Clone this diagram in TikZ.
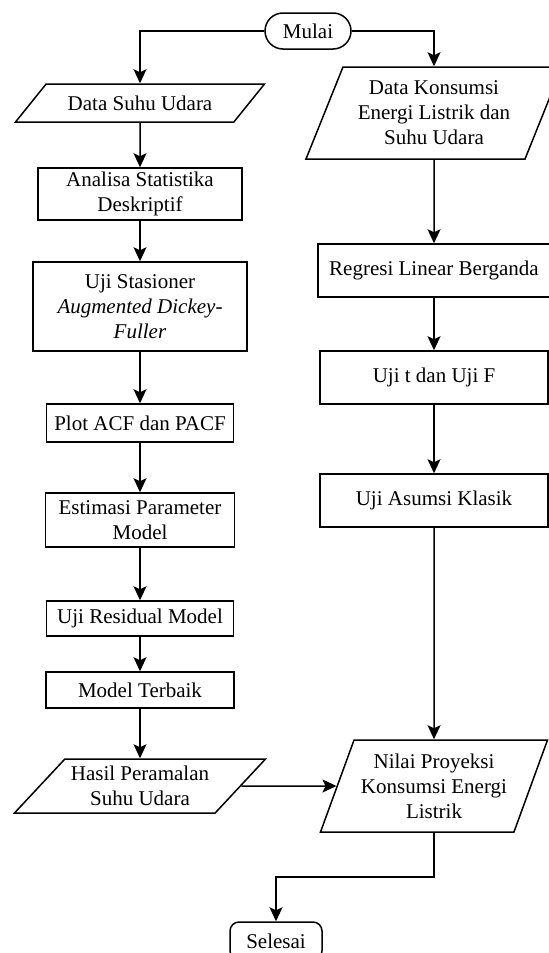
\documentclass[tikz,border=0pt]{standalone}
\usepackage{fontspec}
\setmainfont{Liberation Serif}
\usetikzlibrary{arrows.meta, shapes, positioning, calc}

\tikzset{
  proc/.style={draw, line width=0.75pt, align=center, inner sep=1pt},
  io/.style={trapezium, trapezium stretches body, draw, line width=0.75pt, align=center, inner sep=1pt},
  term/.style={draw, line width=0.75pt, align=center, inner sep=1pt},
  flow/.style={line width=0.75pt, -{Stealth[length=7pt, width=6.5pt, inset=1.5pt]}}
}

\begin{document}
\begin{tikzpicture}[x=0.5pt, y=-0.5pt, every node/.style={font=\fontsize{10.5}{12.5}\selectfont}]
\useasboundingbox (0,0) rectangle (549,953);
\node[term, rounded corners=9pt, minimum width=43pt, minimum height=18pt] (MUL) at (308,31) {Mulai};
% kolom kiri
\node[io, trapezium left angle=31.5, trapezium right angle=148.5, minimum width=124.5pt, minimum height=19pt] (DSU) at (140,103) {Data Suhu Udara};
\node[proc, minimum width=102pt, minimum height=26pt] (ASD) at (140,194) {Analisa Statistika\\Deskriptif};
\node[proc, minimum width=107pt, minimum height=44.5pt] (UST) at (140,306.5) {Uji Stasioner\\\textit{Augmented Dickey-}\\\textit{Fuller}};
\node[proc, minimum width=93.5pt, minimum height=19pt] (PAP) at (140,423) {Plot ACF dan PACF};
\node[proc, minimum width=94.5pt, minimum height=27pt] (EPM) at (140,520) {Estimasi Parameter\\Model};
\node[proc, minimum width=93.5pt, minimum height=17.5pt] (URM) at (140,618.5) {Uji Residual Model};
\node[proc, minimum width=94pt, minimum height=18pt] (MTB) at (140,690) {Model Terbaik};
\node[io, trapezium left angle=41, trapezium right angle=139, minimum width=125.5pt, minimum height=27pt] (HPS) at (140,786) {Hasil Peramalan\\Suhu Udara};
% kolom kanan
\node[io, trapezium left angle=61.5, trapezium right angle=118.5, minimum width=128pt, minimum height=46pt] (DKE) at (434,113) {Data Konsumsi\\Energi Listrik dan\\Suhu Udara};
\node[proc, minimum width=116pt, minimum height=26.5pt] (RLB) at (434,270.5) {Regresi Linear Berganda};
\node[proc, minimum width=114pt, minimum height=26.5pt] (UTF) at (434,377.5) {Uji t dan Uji F};
\node[proc, minimum width=114pt, minimum height=26.5pt] (UAK) at (434,500.5) {Uji Asumsi Klasik};
\node[io, trapezium left angle=64, trapezium right angle=116, minimum width=113.5pt, minimum height=46pt] (NPK) at (434,786) {Nilai Proyeksi\\Konsumsi Energi\\Listrik};
\node[term, rounded corners=4.5pt, minimum width=46pt, minimum height=19pt] (SEL) at (276,941) {Selesai};

\draw[flow] (MUL) -| (DSU);
\draw[flow] (MUL) -| (DKE);
\draw[flow] (DSU) -- (ASD);
\draw[flow] (ASD) -- (UST);
\draw[flow] (UST) -- (PAP);
\draw[flow] (PAP) -- (EPM);
\draw[flow] (EPM) -- (URM);
\draw[flow] (URM) -- (MTB);
\draw[flow] (MTB) -- (HPS);
\draw[flow] (DKE) -- (RLB);
\draw[flow] (RLB) -- (UTF);
\draw[flow] (UTF) -- (UAK);
\draw[flow] (UAK) -- (NPK);
\draw[flow] (HPS) -- (NPK);
\draw[flow] (NPK.south) -- ++(0,44) -| (SEL);
\end{tikzpicture}
\end{document}
